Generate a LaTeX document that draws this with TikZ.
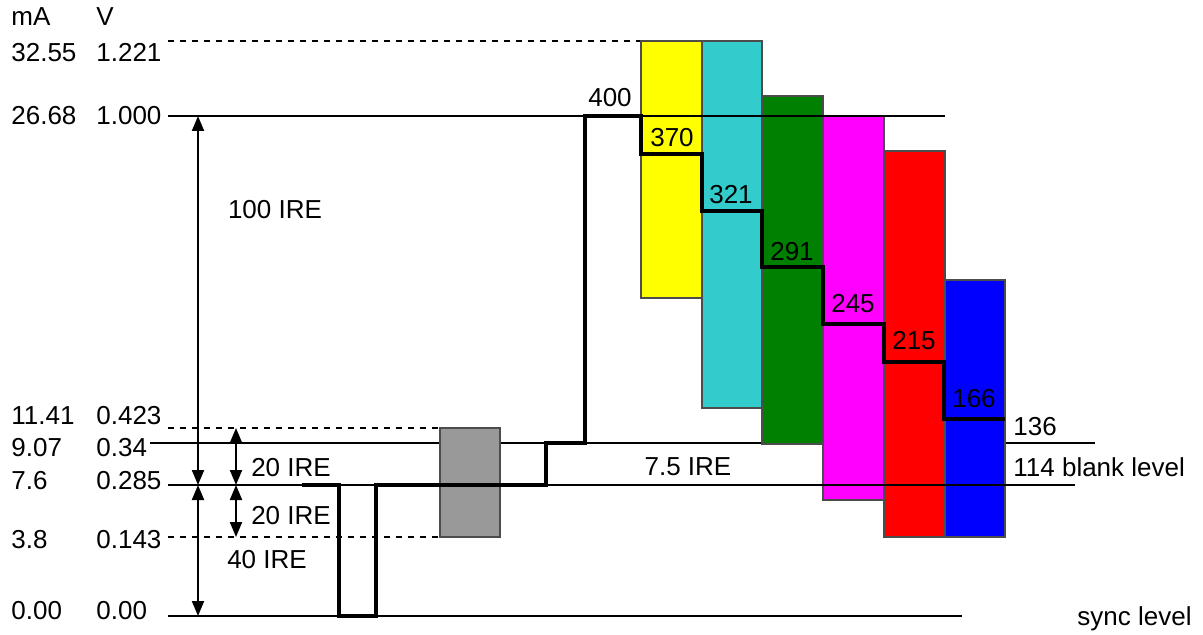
\documentclass[tikz,border=0pt]{standalone}
\usepackage{fontspec}
\setmainfont{Liberation Sans}
\usetikzlibrary{arrows.meta}
\definecolor{barcyan}{HTML}{33CCCC}
\definecolor{bargreen}{HTML}{008000}
\definecolor{bargray}{HTML}{999999}
\definecolor{baryellow}{HTML}{FFFF00}
\definecolor{barmagenta}{HTML}{FF00FF}
\definecolor{barred}{HTML}{FF0000}
\definecolor{barblue}{HTML}{0000FF}
\begin{document}
\begin{tikzpicture}[x=0.5pt, y=-0.5pt,
    every node/.style={font=\fontsize{13pt}{15pt}\selectfont, inner sep=0pt},
    lvl/.style={line width=1pt},
    lvldash/.style={line width=1pt, dash pattern=on 3pt off 3pt},
    bar/.style={draw=black!70, line width=0.6pt},
    wave/.style={line width=1.8pt, line join=miter},
    dim/.style={line width=1pt,
      {Triangle[length=7.5pt,width=6pt]}-{Triangle[length=7.5pt,width=6pt]}}]
  \useasboundingbox (0,0) rectangle (1203,635);

  % ---- scale labels (mA, V) ----
  \node[anchor=west] (hma)  at (11,17)  {mA};
  \node[anchor=west] (hv)   at (96,17)  {V};
  \node[anchor=west] (ma1)  at (11,53)  {32.55};
  \node[anchor=west] (v1)   at (96,52)  {1.221};
  \node[anchor=west] (ma2)  at (11,116) {26.68};
  \node[anchor=west] (v2)   at (96,116) {1.000};
  \node[anchor=west] (ma3)  at (11,416) {11.41};
  \node[anchor=west] (v3)   at (96,416) {0.423};
  \node[anchor=west] (ma4)  at (11,448) {9.07};
  \node[anchor=west] (v4)   at (96,448) {0.34};
  \node[anchor=west] (ma5)  at (11,481) {7.6};
  \node[anchor=west] (v5)   at (96,481) {0.285};
  \node[anchor=west] (ma6)  at (11,540) {3.8};
  \node[anchor=west] (v6)   at (96,540) {0.143};
  \node[anchor=west] (ma7)  at (11,611) {0.00};
  \node[anchor=west] (v7)   at (96,611) {0.00};

  % ---- levels under the bars ----
  \draw[lvldash] (168,41) -- (641,41);
  \draw[lvldash] (168,428) -- (440,428);
  \draw[lvldash] (168,537) -- (440,537);
  \draw[lvl] (150,443) -- (1095,443);
  \draw[lvl] (168,616) -- (962,616);

  % ---- colour bars ----
  \filldraw[bar, fill=bargray]    (440,428) rectangle (500,537);
  \filldraw[bar, fill=baryellow]  (641,41)  rectangle (702,298);
  \filldraw[bar, fill=barcyan]    (702,41)  rectangle (762,408);
  \filldraw[bar, fill=bargreen]   (762,96)  rectangle (823,444);
  \filldraw[bar, fill=barmagenta] (823,116) rectangle (884,500);
  \filldraw[bar, fill=barred]     (884,151) rectangle (945,537);
  \filldraw[bar, fill=barblue]    (945,280) rectangle (1005,537);

  % ---- levels over the bars ----
  \draw[lvl] (168,116) -- (945,116);
  \draw[lvl] (168,485) -- (1075,485);

  % ---- waveform ----
  \draw[wave] (302,485) -- (339,485) -- (339,616) -- (376,616) -- (376,485)
    -- (546,485) -- (546,443) -- (585,443) -- (585,116) -- (641,116)
    -- (641,154) -- (702,154) -- (702,211) -- (762,211) -- (762,267)
    -- (823,267) -- (823,324) -- (884,324) -- (884,362) -- (944,362)
    -- (944,419) -- (1005,419);

  % ---- IRE spans ----
  \coordinate (white) at (198,116);
  \coordinate (blank) at (198,485);
  \coordinate (sync)  at (198,616);
  \coordinate (up20)  at (236,428);
  \coordinate (mid)   at (236,485);
  \coordinate (dn20)  at (236,537);
  \draw[dim] (white) -- (blank);
  \draw[dim] (blank) -- (sync);
  \draw[dim] (up20) -- (mid);
  \draw[dim] (mid) -- (dn20);
  \node (ire100) at (275,210) {100 IRE};
  \node (ire20a) at (291,468) {20 IRE};
  \node (ire20b) at (291,516) {20 IRE};
  \node (ire40)  at (267,560) {40 IRE};
  \node (ire75)  at (688,467) {7.5 IRE};

  % ---- step values ----
  \node (s400) at (610,98)  {400};
  \node (s370) at (672,138) {370};
  \node (s321) at (731,195) {321};
  \node (s291) at (792,252) {291};
  \node (s245) at (853,304) {245};
  \node (s215) at (914,341) {215};
  \node (s166) at (974,399) {166};
  \node[anchor=west] (s136)  at (1013,427) {136};
  \node[anchor=west] (s114)  at (1013,467) {114 blank level};
  \node[anchor=west] (synclab) at (1077,619) {sync level};
\end{tikzpicture}
\end{document}
